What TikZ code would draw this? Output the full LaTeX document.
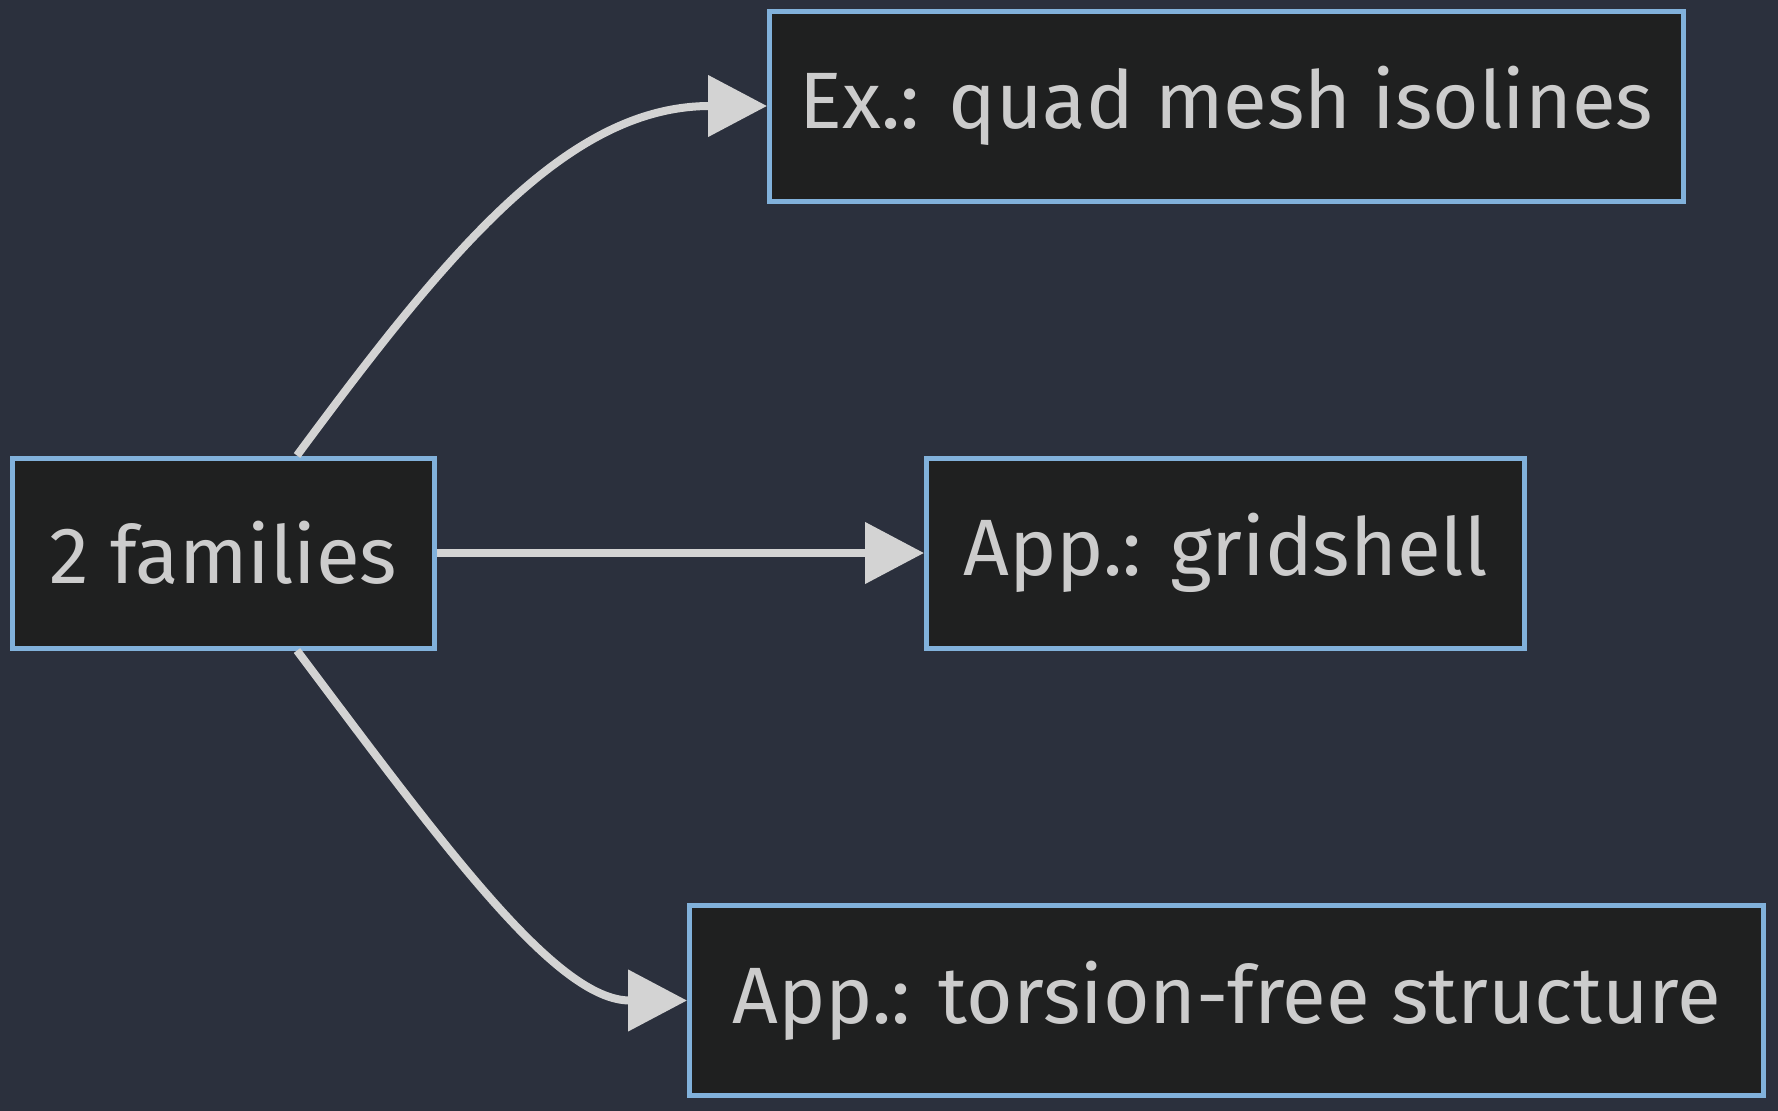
\documentclass[tikz,border=0pt]{standalone}
\usepackage{fontspec}
\setmainfont{Fira Sans}
\usetikzlibrary{arrows.meta}
\definecolor{bgc}{HTML}{2B303D}
\definecolor{boxfill}{HTML}{1F2020}
\definecolor{boxline}{HTML}{81B1DB}
\definecolor{txt}{HTML}{CCCCCC}
\definecolor{edge}{HTML}{D3D3D3}
\tikzset{
  box/.style={draw=boxline, fill=boxfill, line width=5pt, text=txt, inner sep=0pt,
    minimum height=190pt, font=\fontsize{80}{96}\selectfont},
  conn/.style={draw=edge, line width=8pt, -{Triangle[length=59pt,width=60pt]}}
}
\begin{document}
\begin{tikzpicture}[x=1pt,y=-1pt]
\fill[bgc] (0,0) rectangle (1778,1111);
\useasboundingbox (0,0) rectangle (1778,1111);
\node[box, minimum width=422pt] (fam) at (223.5,553) {2 families};
\node[box, minimum width=914pt] (quad) at (1226.5,106) {Ex.: quad mesh isolines};
\node[box, minimum width=598pt] (grid) at (1225.5,553) {App.: gridshell};
\node[box, minimum width=1074pt] (tors) at (1226.5,1000.5) {App.: torsion-free structure};
\draw[conn] ([xshift=73.5pt]fam.north) .. controls +(150,-203) and +(-200,0) .. (quad.west);
\draw[conn] (fam.east) -- (grid.west);
\draw[conn] ([xshift=73.5pt]fam.south) .. controls +(150,200) and +(-130,0) .. (tors.west);
\end{tikzpicture}
\end{document}
